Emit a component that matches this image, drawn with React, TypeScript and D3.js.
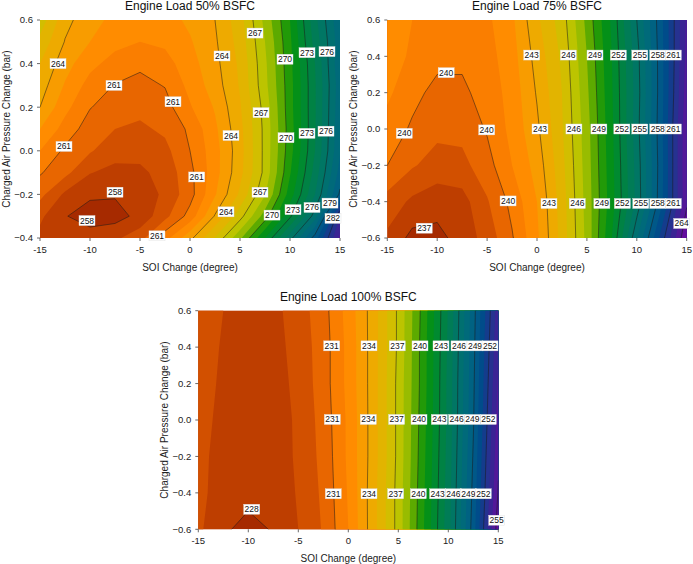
import React from "react";
import * as d3 from "d3";

// SOI change grid (degree), shared by all three loads
const soiChange = [-15, -12.5, -10, -7.5, -5, -2.5, 0, 2.5, 5, 7.5, 10, 12.5, 15];

// Engine load 50 %: charged air pressure rows (bar), top to bottom
const pressure50 = [0.6, 0.5, 0.4, 0.3, 0.2, 0.1, 0, -0.1, -0.2, -0.3, -0.4];
const bsfc50 = [
  [266.6, 264.3, 263.4, 262.7, 262.4, 262.6, 263.2, 264.0, 265.6, 268.3, 271.0, 274.7, 277.8],
  [265.7, 263.95, 263.0, 262.3, 262.0, 262.2, 262.9, 263.85, 265.4, 268.0, 270.8, 274.4, 277.6],
  [265.0, 263.4, 262.3, 261.6, 261.2, 261.6, 262.6, 263.7, 265.2, 267.8, 270.7, 274.0, 277.8],
  [264.5, 262.9, 261.6, 260.95, 260.7, 261.05, 262.3, 263.5, 265.1, 267.7, 270.6, 273.9, 277.6],
  [264.0, 262.3, 261.05, 260.5, 260.3, 260.6, 261.9, 263.1, 264.9, 267.4, 270.6, 273.9, 277.7],
  [263.0, 261.6, 260.5, 260.0, 259.8, 260.2, 261.2, 262.8, 264.7, 267.3, 270.5, 273.9, 277.8],
  [262.0, 260.8, 260.1, 259.4, 259.3, 259.7, 261.0, 262.6, 264.6, 267.3, 270.6, 274.0, 277.9],
  [261.1, 260.3, 259.05, 258.7, 258.8, 259.35, 260.7, 262.6, 264.7, 267.3, 270.9, 274.4, 278.4],
  [260.3, 258.8, 258.15, 258.1, 258.4, 259.2, 260.6, 262.9, 265.2, 267.9, 271.5, 275.0, 279.2],
  [259.2, 258.05, 257.6, 257.6, 258.3, 259.7, 261.4, 264.1, 266.6, 269.5, 272.8, 276.5, 283.0],
  [258.7, 258.3, 258.4, 258.8, 259.6, 261.6, 263.7, 266.1, 268.8, 272.0, 275.6, 279.5, 284.3],
];

// Engine load 75 %
const pressure75 = [0.6, 0.4, 0.2, 0, -0.2, -0.4, -0.6];
const bsfc75 = [
  [241.8, 241.0, 240.5, 240.4, 240.8, 241.8, 243.8, 245.5, 248.3, 251.2, 255.0, 258.8, 263.2],
  [241.6, 240.8, 240.3, 240.2, 240.6, 241.6, 243.4, 245.2, 248.0, 251.0, 254.6, 258.7, 263.3],
  [241.2, 240.3, 239.7, 239.8, 240.4, 241.4, 243.1, 245.0, 247.8, 250.9, 254.5, 258.7, 263.5],
  [240.6, 239.85, 239.25, 239.3, 240.1, 241.3, 242.8, 244.9, 247.6, 250.8, 254.6, 258.8, 263.8],
  [240.0, 239.1, 238.6, 238.7, 239.6, 241.0, 242.4, 244.7, 247.5, 250.7, 254.4, 258.7, 263.9],
  [238.6, 237.8, 237.4, 237.6, 238.9, 240.3, 242.0, 244.5, 247.4, 250.6, 254.3, 258.8, 263.8],
  [237.8, 236.7, 236.7, 237.4, 238.4, 239.9, 241.8, 244.4, 247.3, 251.0, 255.9, 260.5, 265.0],
];

// Engine load 100 %
const pressure100 = [0.6, 0.4, 0.2, 0, -0.2, -0.4, -0.6];
const bsfc100 = [
  [229.6, 229.0, 228.5, 228.7, 229.5, 230.6, 232.4, 234.5, 237.2, 240.4, 244.1, 248.6, 253.6],
  [229.5, 228.9, 228.4, 228.6, 229.4, 230.5, 232.3, 234.5, 237.2, 240.5, 244.2, 248.7, 253.9],
  [229.5, 228.8, 228.3, 228.5, 229.3, 230.5, 232.3, 234.5, 237.3, 240.5, 244.3, 248.8, 254.2],
  [229.4, 228.7, 228.2, 228.4, 229.2, 230.4, 232.2, 234.5, 237.3, 240.6, 244.3, 248.9, 254.5],
  [229.3, 228.6, 228.1, 228.3, 229.2, 230.3, 232.2, 234.5, 237.3, 240.7, 244.4, 249.1, 254.8],
  [229.3, 228.5, 228.4, 228.3, 229.1, 230.2, 232.1, 234.6, 237.4, 240.8, 244.5, 249.3, 255.1],
  [229.2, 228.2, 227.6, 228.1, 229.0, 230.1, 232.0, 234.6, 237.4, 240.9, 244.6, 249.5, 255.6],
];

// Contour labels: [level, SOI change, pressure change]
const labels50: [number, number, number][] = [
  [264, -13.2, 0.4], [261, -7.6, 0.3], [261, -1.7, 0.225], [261, -12.6, 0.02],
  [261, 0.67, -0.12], [261, -3.3, -0.39], [258, -7.5, -0.19], [258, -10.3, -0.32],
  [267, 6.5, 0.54], [264, 3.2, 0.435], [270, 9.5, 0.42], [273, 11.7, 0.45], [276, 13.7, 0.455],
  [267, 7.1, 0.175], [264, 4.1, 0.07], [270, 9.6, 0.06], [273, 11.7, 0.08], [276, 13.6, 0.09],
  [267, 7.0, -0.19], [264, 3.6, -0.28], [270, 8.2, -0.295], [273, 10.3, -0.27],
  [276, 12.2, -0.26], [279, 14.0, -0.24], [282, 14.3, -0.31],
];
const labels75: [number, number, number][] = [
  [243, -0.53, 0.407], [246, 3.14, 0.407], [249, 5.81, 0.407], [252, 8.15, 0.407],
  [255, 10.3, 0.407], [258, 12.1, 0.407], [261, 13.66, 0.407],
  [240, -9.1, 0.31], [240, -13.3, -0.024], [240, -5.04, -0.005],
  [243, 0.3, 0], [246, 3.7, 0], [249, 6.2, 0], [252, 8.5, 0], [255, 10.3, 0], [258, 12.1, 0], [261, 13.66, 0],
  [240, -2.9, -0.396], [243, 1.2, -0.41], [246, 4.04, -0.41], [249, 6.5, -0.41],
  [252, 8.55, -0.41], [255, 10.4, -0.41], [258, 12.1, -0.41], [261, 13.66, -0.41],
  [237, -11.3, -0.546], [264, 14.5, -0.52],
];
const labels100: [number, number, number][] = [
  [231, -1.66, 0.407], [234, 2.07, 0.407], [237, 4.9, 0.407], [240, 7.17, 0.407],
  [243, 9.27, 0.407], [246, 11.07, 0.407], [249, 12.67, 0.407], [252, 14.17, 0.407],
  [231, -1.6, 0.003], [234, 2.0, 0.003], [237, 4.83, 0.003], [240, 7.07, 0.003],
  [243, 9.1, 0.003], [246, 10.83, 0.003], [249, 12.4, 0.003], [252, 14.0, 0.003],
  [231, -1.5, -0.405], [234, 2.07, -0.405], [237, 4.73, -0.405], [240, 7.0, -0.405],
  [243, 8.93, -0.405], [246, 10.5, -0.405], [249, 12.0, -0.405], [252, 13.5, -0.405],
  [228, -9.66, -0.49], [255, 14.84, -0.55],
];

const xTicks = [-15, -10, -5, 0, 5, 10, 15];
const yTicks50 = [0.6, 0.4, 0.2, 0, -0.2, -0.4];
const yTicks = [0.6, 0.4, 0.2, 0, -0.2, -0.4, -0.6];

// One colour per 1 g/kWh band, low (dark red) to high (violet)
const palette = [
  "#a62a00", "#be3e00", "#d25000", "#e86600", "#fa7e00", "#ff8c00", "#f89c00", "#eeaa00",
  "#e2b400", "#d2be00", "#bcc400", "#98bc00", "#5caa00", "#229a08", "#049018", "#008a30",
  "#008244", "#007c56", "#007664", "#007070", "#006a7a", "#006282", "#005888", "#004c8a",
  "#143c8c", "#263290", "#3a2494", "#521898", "#620c9c", "#6e00a0",
];

const FONT = "'Liberation Sans', Arial, Helvetica, sans-serif";

type PanelCfg = {
  id: string;
  title: string;
  left: number;
  top: number;
  width: number;
  height: number;
  rows: number[];
  values: number[][];
  base: number;
  fillLevels: number[];
  lineLevels: number[];
  labels: [number, number, number][];
  yTicks: number[];
};

const panels: PanelCfg[] = [
  {
    id: "p50", title: "Engine Load 50% BSFC", left: 40, top: 20, width: 300, height: 218,
    rows: pressure50, values: bsfc50, base: 257,
    fillLevels: d3.range(258, 286), lineLevels: d3.range(258, 285, 3),
    labels: labels50, yTicks: yTicks50,
  },
  {
    id: "p75", title: "Engine Load 75% BSFC", left: 387.3, top: 20, width: 299.4, height: 218,
    rows: pressure75, values: bsfc75, base: 236,
    fillLevels: d3.range(237, 266), lineLevels: d3.range(237, 266, 3),
    labels: labels75, yTicks: yTicks,
  },
  {
    id: "p100", title: "Engine Load 100% BSFC", left: 198.3, top: 310.7, width: 300, height: 218.6,
    rows: pressure100, values: bsfc100, base: 227,
    fillLevels: d3.range(228, 257), lineLevels: d3.range(228, 257, 3),
    labels: labels100, yTicks: yTicks,
  },
];

function colorFor(index: number) {
  return palette[Math.max(0, Math.min(palette.length - 1, index))];
}

function ContourPanel({ cfg }: { cfg: PanelCfg }) {
  const nx = soiChange.length;
  const ny = cfg.rows.length;
  const x = d3.scaleLinear().domain([-15, 15]).range([cfg.left, cfg.left + cfg.width]);
  const y = d3
    .scaleLinear()
    .domain([cfg.rows[ny - 1], cfg.rows[0]])
    .range([cfg.top + cfg.height, cfg.top]);

  // grid space of d3.contours: sample i sits at i + 0.5
  const gx = d3.scaleLinear().domain([0.5, nx - 0.5]).range([soiChange[0], soiChange[nx - 1]]);
  const gy = d3.scaleLinear().domain([0.5, ny - 0.5]).range([cfg.rows[0], cfg.rows[ny - 1]]);
  const projection = d3.geoTransform({
    point(px: number, py: number) {
      (this as any).stream.point(x(gx(px)), y(gy(py)));
    },
  });
  const path = d3.geoPath(projection as any);
  const flat = cfg.values.flat();
  const gen = d3.contours().size([nx, ny]);

  const fills = cfg.fillLevels.map((t) => ({ t, d: path(gen.contour(flat, t) as any) || "" }));
  const lines = cfg.lineLevels.map((t) => ({ t, d: path(gen.contour(flat, t) as any) || "" }));

  const bottom = cfg.top + cfg.height;
  const cx = cfg.left + cfg.width / 2;
  const cy = cfg.top + cfg.height / 2;

  return (
    <g>
      <defs>
        <clipPath id={`clip-${cfg.id}`}>
          <rect x={cfg.left} y={cfg.top} width={cfg.width} height={cfg.height} />
        </clipPath>
      </defs>
      <g clipPath={`url(#clip-${cfg.id})`}>
        <rect x={cfg.left} y={cfg.top} width={cfg.width} height={cfg.height} fill={colorFor(0)} />
        {fills.map((f) => (
          <path key={`f${f.t}`} d={f.d} fill={colorFor(f.t - cfg.base)} fillRule="evenodd" stroke="none" />
        ))}
        {lines.map((l) => (
          <path key={`l${l.t}`} d={l.d} fill="none" stroke="#1a1a1a" strokeWidth={0.6} strokeOpacity={0.85} />
        ))}
      </g>

      {/* x axis */}
      {xTicks.map((v) => (
        <g key={`xt${v}`}>
          <line x1={x(v)} x2={x(v)} y1={bottom} y2={bottom + 3} stroke="#444" strokeWidth={0.8} />
          <text x={x(v)} y={bottom + 15} textAnchor="middle" fontSize={9.5} fill="#222" fontFamily={FONT}>
            {v}
          </text>
        </g>
      ))}
      <text x={cx} y={bottom + 32.5} textAnchor="middle" fontSize={10} fill="#222" fontFamily={FONT}>
        SOI Change (degree)
      </text>

      {/* y axis */}
      {cfg.yTicks.map((v) => (
        <g key={`yt${v}`}>
          <line x1={cfg.left - 3} x2={cfg.left} y1={y(v)} y2={y(v)} stroke="#444" strokeWidth={0.8} />
          <text x={cfg.left - 7} y={y(v)} dy="0.35em" textAnchor="end" fontSize={9.5} fill="#222" fontFamily={FONT}>
            {d3.format(".1f")(v)}
          </text>
        </g>
      ))}
      <text
        transform={`translate(${cfg.left - 34},${cy}) rotate(-90)`}
        dy="0.35em"
        textAnchor="middle"
        fontSize={10}
        fill="#222"
        fontFamily={FONT}
      >
        Charged Air Pressure Change (bar)
      </text>

      {/* title */}
      <text x={cx} y={cfg.top - 10} textAnchor="middle" fontSize={12} fill="#111" fontFamily={FONT}>
        {cfg.title}
      </text>

      {/* contour labels */}
      {cfg.labels.map(([lvl, lx, ly], i) => (
        <g key={`lb${i}`} transform={`translate(${x(lx)},${y(ly)})`}>
          <rect x={-8} y={-5} width={16} height={10} fill="#fff" stroke="#ddd" strokeWidth={0.4} />
          <text dy="0.35em" textAnchor="middle" fontSize={8.5} fill="#111" fontFamily={FONT}>
            {lvl}
          </text>
        </g>
      ))}
    </g>
  );
}

export default function App() {
  return (
    <svg
      width={693}
      height={564}
      viewBox="0 0 693 564"
      style={{ position: "absolute", left: 0, top: 0, background: "#fff" }}
    >
      {panels.map((p) => (
        <ContourPanel key={p.id} cfg={p} />
      ))}
    </svg>
  );
}
